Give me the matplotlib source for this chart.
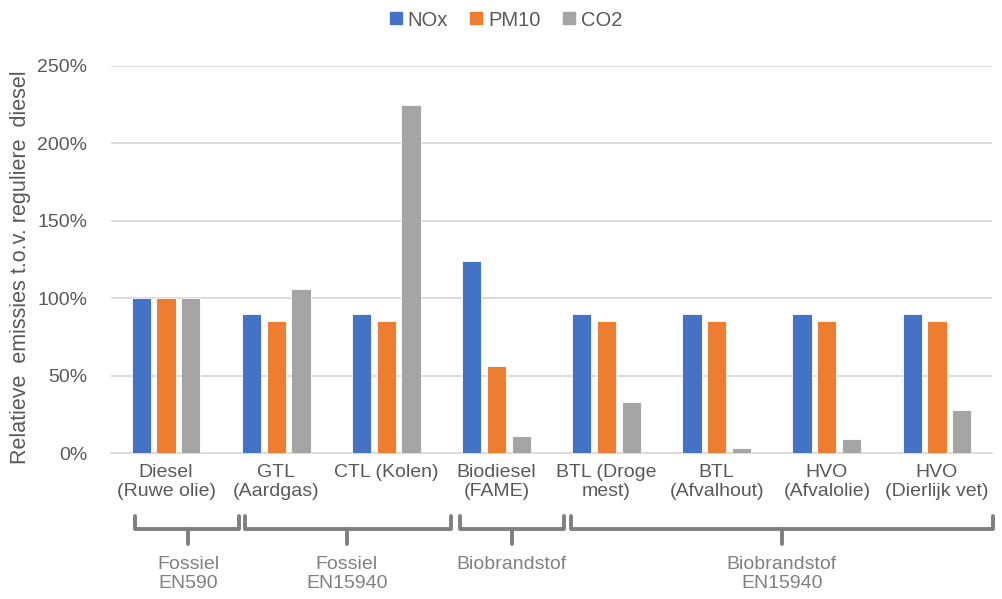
import matplotlib
matplotlib.use("Agg")
import matplotlib.pyplot as plt
import matplotlib.transforms as mtransforms
from matplotlib.lines import Line2D
from matplotlib.ticker import FuncFormatter
import numpy as np

plt.rcParams['font.family'] = ['Liberation Sans', 'DejaVu Sans']

categories = ["Diesel\n(Ruwe olie)", "GTL\n(Aardgas)", "CTL (Kolen)", "Biodiesel\n(FAME)",
              "BTL (Droge\nmest)", "BTL\n(Afvalhout)", "HVO\n(Afvalolie)", "HVO\n(Dierlijk vet)"]
series_names = ["NOx", "PM10", "CO2"]
nox = [100, 90, 90, 124, 90, 90, 90, 90]
pm10 = [100, 85, 85, 56, 85, 85, 85, 85]
co2 = [100, 106, 225, 11, 33, 3, 9, 28]
colors = ["#4472C4", "#ED7D31", "#A5A5A5"]

group_labels = ["Fossiel\nEN590", "Fossiel\nEN15940", "Biobrandstof", "Biobrandstof\nEN15940"]
# bracket extents in category units (layout)
group_spans = [(-0.28, 0.66, 0.20), (0.72, 2.59, 1.64), (2.67, 3.61, 3.14), (3.68, 7.51, 5.59)]

W, H = 1002, 599
fig = plt.figure(figsize=(W / 100, H / 100), dpi=100)
ax = fig.add_axes([111 / W, 1 - 453 / H, (992 - 111) / W, (453 - 66) / H])

x = np.arange(len(categories))
bw = 0.175
step = 0.225
for i, (vals, c, name) in enumerate(zip([nox, pm10, co2], colors, series_names)):
    ax.bar(x + (i - 1) * step, np.array(vals) / 100, width=bw, color=c, label=name,
           edgecolor="white", linewidth=0.6, zorder=3)

ax.set_xlim(-0.5, len(categories) - 0.5)
ax.set_ylim(0, 2.5)
ax.set_yticks(np.arange(0, 2.51, 0.5))
ax.yaxis.set_major_formatter(FuncFormatter(lambda v, p: f"{v*100:.0f}%"))
ax.grid(axis="y", color="#D9D9D9", linewidth=1.3, zorder=0)
for s in ["top", "right", "left"]:
    ax.spines[s].set_visible(False)
ax.spines["bottom"].set_color("#D9D9D9")
ax.spines["bottom"].set_linewidth(1.3)
ax.tick_params(axis="both", length=0, labelsize=14, colors="#595959")
ax.tick_params(axis="y", pad=17)
ax.tick_params(axis="x", pad=8)
ax.set_xticks(x)
ax.set_xticklabels(categories, linespacing=1.15)
ax.set_ylabel("Relatieve  emissies t.o.v. reguliere  diesel", fontsize=15.5, color="#595959")
ax.yaxis.set_label_coords(-80 / 881, 0.48)

# brackets
tr = mtransforms.blended_transform_factory(ax.transData, fig.transFigure)
ytop = 1 - 516 / H
ymid = 1 - 529 / H
ytip = 1 - 544 / H
for (x0, x1, xt), lab in zip(group_spans, group_labels):
    ax.plot([x0, x0, x1, x1], [ytop, ymid, ymid, ytop], transform=tr, color="#7F7F7F",
            lw=2.8, clip_on=False, solid_capstyle="round", solid_joinstyle="round")
    ax.plot([xt, xt], [ymid, ytip], transform=tr, color="#7F7F7F", lw=2.8,
            clip_on=False, solid_capstyle="round")
    ax.text(xt, 1 - 556 / H, lab, transform=tr, ha="center", va="top", fontsize=14,
            color="#808080", linespacing=1.15)

handles = [Line2D([], [], marker="s", linestyle="none", markersize=9, color=c) for c in colors]
fig.legend(handles, series_names, loc="center", bbox_to_anchor=(505 / W, 1 - 20 / H), ncol=3,
           frameon=False, fontsize=14.5, handlelength=0.8, handletextpad=0.2, columnspacing=1.0,
           labelcolor="#595959")

fig.savefig("out.png", dpi=100)
